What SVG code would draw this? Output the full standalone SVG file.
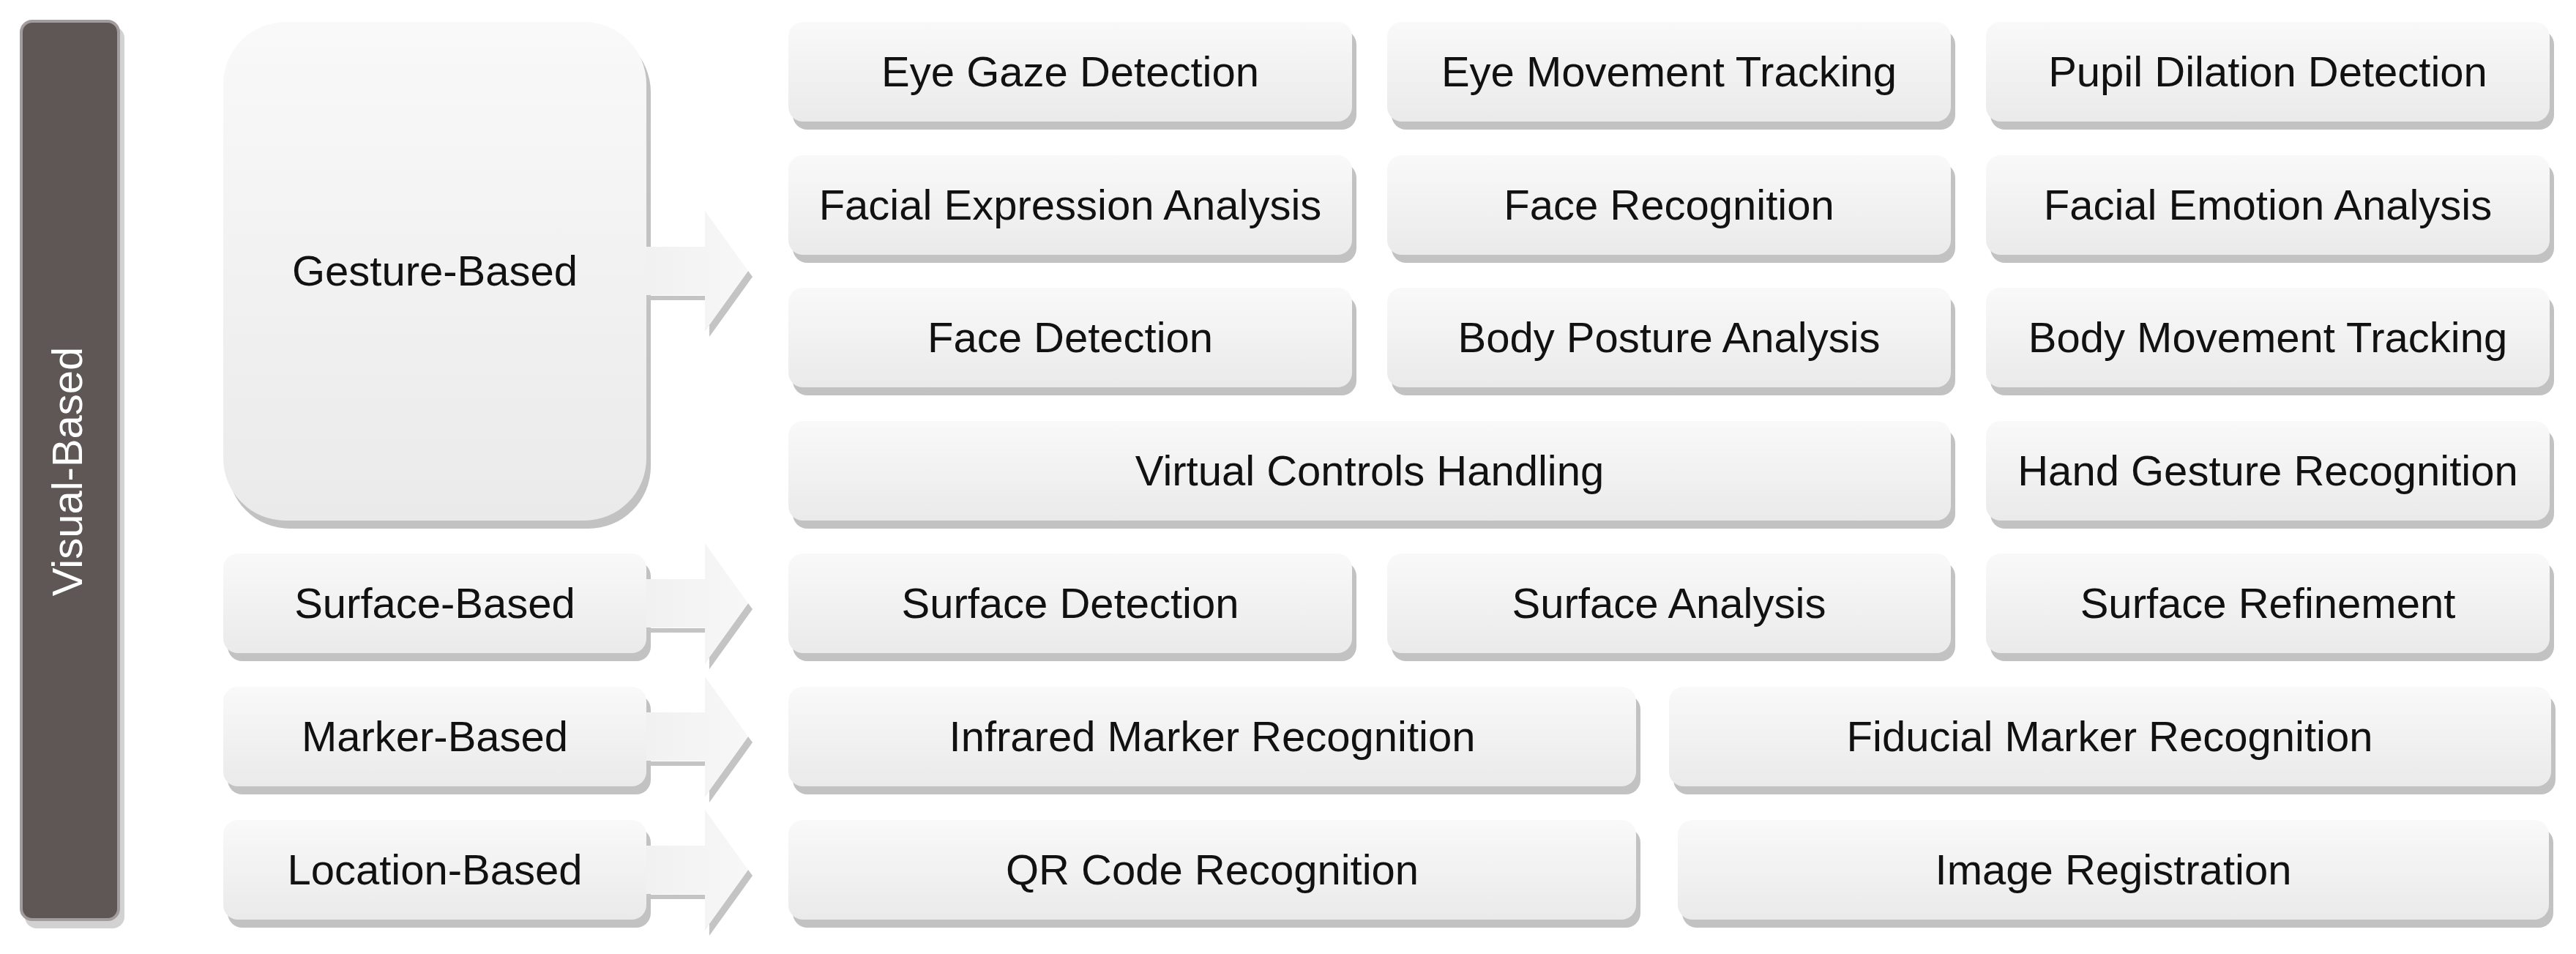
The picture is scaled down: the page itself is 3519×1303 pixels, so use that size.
<svg xmlns="http://www.w3.org/2000/svg" width="3519" height="1303" viewBox="0 0 3519 1303">
<defs>
<linearGradient id="g" x1="0" y1="0" x2="0" y2="1">
<stop offset="0" stop-color="#f9f9f9"/>
<stop offset="1" stop-color="#eaeaea"/>
</linearGradient>
<linearGradient id="ga" x1="0" y1="0" x2="1" y2="0">
<stop offset="0" stop-color="#f1f1f1"/>
<stop offset="1" stop-color="#f7f7f7"/>
</linearGradient>
</defs>
<style>
.box{fill:url(#g);}
.sh{fill:#c2c2c2;}
.t{font-family:"Liberation Sans",Arial,sans-serif;font-size:58px;fill:#111;text-anchor:middle;}
.arr{fill:url(#ga);}
.ash{fill:#c4c4c4;}
</style>
<rect width="3519" height="1303" fill="#ffffff"/>

<g id="visual-based">
<rect x="34" y="36" width="136" height="1232" rx="16" fill="#d2d2d2"/>
<rect x="29" y="29" width="133" height="1227" rx="15" fill="#5f5656" stroke="#a29c9c" stroke-width="4"/>
<text class="t" transform="translate(112,644) rotate(-90)" style="fill:#ffffff">Visual-Based</text>
</g>

<g id="gesture-based">
<rect class="sh" x="311" y="41" width="578" height="681" rx="85"/>
<rect class="box" x="305" y="30" width="578" height="681" rx="85"/>
<text class="t" x="594" y="390">Gesture-Based</text>
</g>
<g id="surface-based">
<rect class="sh" x="311" y="767" width="578" height="136" rx="20"/>
<rect class="box" x="305" y="756" width="578" height="136" rx="20"/>
<text class="t" x="594" y="844">Surface-Based</text>
</g>
<g id="marker-based">
<rect class="sh" x="311" y="949" width="578" height="136" rx="20"/>
<rect class="box" x="305" y="938" width="578" height="136" rx="20"/>
<text class="t" x="594" y="1026">Marker-Based</text>
</g>
<g id="location-based">
<rect class="sh" x="311" y="1131" width="578" height="136" rx="20"/>
<rect class="box" x="305" y="1120" width="578" height="136" rx="20"/>
<text class="t" x="594" y="1208">Location-Based</text>
</g>

<g id="connectors">
<g id="arrow-gesture">
<polygon class="ash" points="889,410 969,410 969,460 1028,378 1022,370 963,452 963,404 883,404"/>
<polygon class="arr" points="883,337 963,337 963,288 1022,370 963,452 963,403 883,403"/>
</g>
<g id="arrow-surface">
<polygon class="ash" points="889,864 969,864 969,914 1028,832 1022,824 963,906 963,858 883,858"/>
<polygon class="arr" points="883,791 963,791 963,742 1022,824 963,906 963,857 883,857"/>
</g>
<g id="arrow-marker">
<polygon class="ash" points="889,1046 969,1046 969,1096 1028,1014 1022,1006 963,1088 963,1040 883,1040"/>
<polygon class="arr" points="883,973 963,973 963,924 1022,1006 963,1088 963,1039 883,1039"/>
</g>
<g id="arrow-location">
<polygon class="ash" points="889,1228 969,1228 969,1278 1028,1196 1022,1188 963,1270 963,1222 883,1222"/>
<polygon class="arr" points="883,1155 963,1155 963,1106 1022,1188 963,1270 963,1221 883,1221"/>
</g>
</g>

<g id="eye-gaze-detection">
<rect class="sh" x="1083" y="41" width="770" height="136" rx="20"/>
<rect class="box" x="1077" y="30" width="770" height="136" rx="20"/>
<text class="t" x="1462" y="118">Eye Gaze Detection</text>
</g>
<g id="eye-movement-tracking">
<rect class="sh" x="1901" y="41" width="770" height="136" rx="20"/>
<rect class="box" x="1895" y="30" width="770" height="136" rx="20"/>
<text class="t" x="2280" y="118">Eye Movement Tracking</text>
</g>
<g id="pupil-dilation-detection">
<rect class="sh" x="2719" y="41" width="770" height="136" rx="20"/>
<rect class="box" x="2713" y="30" width="770" height="136" rx="20"/>
<text class="t" x="3098" y="118">Pupil Dilation Detection</text>
</g>

<g id="facial-expression-analysis">
<rect class="sh" x="1083" y="223" width="770" height="136" rx="20"/>
<rect class="box" x="1077" y="212" width="770" height="136" rx="20"/>
<text class="t" x="1462" y="300">Facial Expression Analysis</text>
</g>
<g id="face-recognition">
<rect class="sh" x="1901" y="223" width="770" height="136" rx="20"/>
<rect class="box" x="1895" y="212" width="770" height="136" rx="20"/>
<text class="t" x="2280" y="300">Face Recognition</text>
</g>
<g id="facial-emotion-analysis">
<rect class="sh" x="2719" y="223" width="770" height="136" rx="20"/>
<rect class="box" x="2713" y="212" width="770" height="136" rx="20"/>
<text class="t" x="3098" y="300">Facial Emotion Analysis</text>
</g>

<g id="face-detection">
<rect class="sh" x="1083" y="404" width="770" height="136" rx="20"/>
<rect class="box" x="1077" y="393" width="770" height="136" rx="20"/>
<text class="t" x="1462" y="481">Face Detection</text>
</g>
<g id="body-posture-analysis">
<rect class="sh" x="1901" y="404" width="770" height="136" rx="20"/>
<rect class="box" x="1895" y="393" width="770" height="136" rx="20"/>
<text class="t" x="2280" y="481">Body Posture Analysis</text>
</g>
<g id="body-movement-tracking">
<rect class="sh" x="2719" y="404" width="770" height="136" rx="20"/>
<rect class="box" x="2713" y="393" width="770" height="136" rx="20"/>
<text class="t" x="3098" y="481">Body Movement Tracking</text>
</g>

<g id="virtual-controls-handling">
<rect class="sh" x="1083" y="586" width="1588" height="136" rx="20"/>
<rect class="box" x="1077" y="575" width="1588" height="136" rx="20"/>
<text class="t" x="1871" y="663">Virtual Controls Handling</text>
</g>
<g id="hand-gesture-recognition">
<rect class="sh" x="2719" y="586" width="770" height="136" rx="20"/>
<rect class="box" x="2713" y="575" width="770" height="136" rx="20"/>
<text class="t" x="3098" y="663">Hand Gesture Recognition</text>
</g>

<g id="surface-detection">
<rect class="sh" x="1083" y="767" width="770" height="136" rx="20"/>
<rect class="box" x="1077" y="756" width="770" height="136" rx="20"/>
<text class="t" x="1462" y="844">Surface Detection</text>
</g>
<g id="surface-analysis">
<rect class="sh" x="1901" y="767" width="770" height="136" rx="20"/>
<rect class="box" x="1895" y="756" width="770" height="136" rx="20"/>
<text class="t" x="2280" y="844">Surface Analysis</text>
</g>
<g id="surface-refinement">
<rect class="sh" x="2719" y="767" width="770" height="136" rx="20"/>
<rect class="box" x="2713" y="756" width="770" height="136" rx="20"/>
<text class="t" x="3098" y="844">Surface Refinement</text>
</g>

<g id="infrared-marker-recognition">
<rect class="sh" x="1083" y="949" width="1158" height="136" rx="20"/>
<rect class="box" x="1077" y="938" width="1158" height="136" rx="20"/>
<text class="t" x="1656" y="1026">Infrared Marker Recognition</text>
</g>
<g id="fiducial-marker-recognition">
<rect class="sh" x="2286" y="949" width="1205" height="136" rx="20"/>
<rect class="box" x="2280" y="938" width="1205" height="136" rx="20"/>
<text class="t" x="2882" y="1026">Fiducial Marker Recognition</text>
</g>

<g id="qr-code-recognition">
<rect class="sh" x="1083" y="1131" width="1158" height="136" rx="20"/>
<rect class="box" x="1077" y="1120" width="1158" height="136" rx="20"/>
<text class="t" x="1656" y="1208">QR Code Recognition</text>
</g>
<g id="image-registration">
<rect class="sh" x="2298" y="1131" width="1190" height="136" rx="20"/>
<rect class="box" x="2292" y="1120" width="1190" height="136" rx="20"/>
<text class="t" x="2887" y="1208">Image Registration</text>
</g>
</svg>
